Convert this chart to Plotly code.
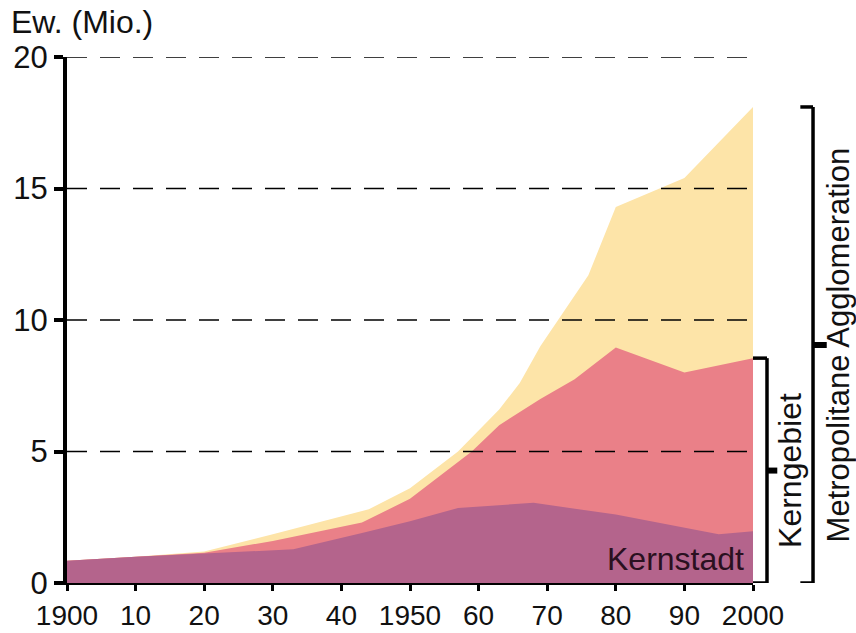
import plotly.graph_objects as go

# ---- data ----
x_tick_vals = [1900, 1910, 1920, 1930, 1940, 1950, 1960, 1970, 1980, 1990, 2000]
x_tick_text = ["1900", "10", "20", "30", "40", "1950", "60", "70", "80", "90", "2000"]
y_tick_vals = [0, 5, 10, 15, 20]
grid_vals = [5, 10, 15, 20]

years_agglo = [1900, 1910, 1920, 1930, 1944, 1950, 1957, 1963, 1966, 1969, 1976, 1980, 1990, 2000]
agglo = [0.85, 1.0, 1.2, 1.85, 2.8, 3.6, 5.0, 6.6, 7.6, 9.0, 11.7, 14.3, 15.4, 18.1]

years_kerngebiet = [1900, 1910, 1920, 1930, 1943, 1950, 1959, 1963, 1969, 1974, 1980, 1990, 2000]
kerngebiet = [0.85, 1.0, 1.15, 1.6, 2.3, 3.2, 5.0, 6.0, 7.0, 7.75, 8.95, 8.0, 8.55]

years_kernstadt = [1900, 1910, 1920, 1933, 1943, 1950, 1957, 1968, 1980, 1990, 1995, 2000]
kernstadt = [0.85, 1.0, 1.12, 1.28, 1.9, 2.35, 2.85, 3.05, 2.6, 2.1, 1.85, 1.97]

col_agglo = "rgb(253,228,168)"
col_kerngebiet = "rgb(234,128,136)"
col_kernstadt = "rgb(180,100,140)"

FONT = "Liberation Sans, Arial, sans-serif"
FS = 31

fig = go.Figure()
for xs, ys, col, name in [
    (years_agglo, agglo, col_agglo, "Metropolitane Agglomeration"),
    (years_kerngebiet, kerngebiet, col_kerngebiet, "Kerngebiet"),
    (years_kernstadt, kernstadt, col_kernstadt, "Kernstadt"),
]:
    fig.add_trace(go.Scatter(x=xs, y=ys, mode="lines", fill="tozeroy",
                             fillcolor=col, line=dict(width=0, color=col),
                             name=name, hoverinfo="x+y+name"))

for g in grid_vals:
    fig.add_trace(go.Scatter(x=[x_tick_vals[0], x_tick_vals[-1]], y=[g, g], mode="lines",
                             line=dict(color="black", width=1.5, dash="20px,13px"),
                             hoverinfo="skip"))

fig.update_layout(
    width=856, height=633,
    margin=dict(l=67, r=103, t=57, b=50),
    paper_bgcolor="white", plot_bgcolor="white",
    showlegend=False,
    font=dict(family=FONT, size=FS, color="#111"),
    xaxis=dict(range=[1900, 2000], tickvals=x_tick_vals, ticktext=x_tick_text,
               showgrid=False, zeroline=False, showline=True, linecolor="black", linewidth=2,
               ticks="outside", ticklen=6, tickwidth=3, tickcolor="black", automargin=False,
               tickfont=dict(size=28, family=FONT, color="#111"), fixedrange=True),
    yaxis=dict(range=[0, 20], tickvals=y_tick_vals,
               showgrid=False, zeroline=False, showline=True, linecolor="black", linewidth=4,
               ticks="outside", ticklen=9, tickwidth=4, tickcolor="black", automargin=False,
               tickfont=dict(size=FS, family=FONT, color="#111"), fixedrange=True),
)

# axis title
fig.add_annotation(text="Ew. (Mio.)", xref="paper", yref="paper", x=-0.085, y=1.0,
                   yshift=35, xanchor="left", yanchor="middle", showarrow=False,
                   font=dict(size=FS + 1, family=FONT, color="#111"))

# Kernstadt label
fig.add_annotation(text="Kernstadt", x=1999, y=0, xref="x", yref="y", xanchor="right",
                   yanchor="bottom", yshift=4, showarrow=False,
                   font=dict(size=FS + 1, family=FONT, color="#2a1020"))

# brackets
def bracket(x_line, x_in, top, nub_len, label, x_text, fs):
    mid = top / 2
    kw = dict(xref="paper", yref="y", line=dict(color="black", width=3.5), layer="above")
    fig.add_shape(type="line", x0=x_line, x1=x_line, y0=0, y1=top, **kw)
    fig.add_shape(type="line", x0=x_in, x1=x_line, y0=top, y1=top, **kw)
    fig.add_shape(type="line", x0=x_in, x1=x_line, y0=0, y1=0, **kw)
    fig.add_shape(type="line", x0=x_line, x1=x_line + nub_len, y0=mid, y1=mid,
                  xref="paper", yref="y", line=dict(color="black", width=6), layer="above")
    fig.add_annotation(text=label, xref="paper", yref="y", x=x_text, y=mid, textangle=-90,
                       showarrow=False, xanchor="center", yanchor="middle",
                       font=dict(size=fs, family=FONT, color="#111"))

bracket(1.0204, 1.0, kerngebiet[-1], 0.015, "Kerngebiet", 1.053, FS + 1)
bracket(1.0875, 1.069, agglo[-1], 0.02, "Metropolitane Agglomeration", 1.126, FS)

fig.write_html("out.html", config={"displayModeBar": False},
               post_script="document.body.style.margin='0';")
